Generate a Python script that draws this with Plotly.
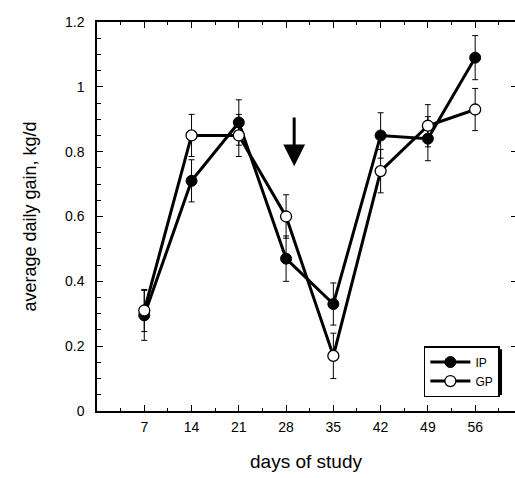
import plotly.graph_objects as go

# ── dados ────────────────────────────────────────────────────────────────────
days = [7, 14, 21, 28, 35, 42, 49, 56]
ip_gain = [0.295, 0.71, 0.89, 0.47, 0.33, 0.85, 0.84, 1.09]
ip_err = [0.077, 0.065, 0.07, 0.07, 0.065, 0.07, 0.068, 0.068]
gp_gain = [0.31, 0.85, 0.85, 0.60, 0.17, 0.74, 0.88, 0.93]
gp_err = [0.065, 0.065, 0.065, 0.067, 0.07, 0.067, 0.065, 0.065]

# seta (mudança de dieta)
arrow_day = 29.2
arrow_tip = 0.755
arrow_tail = 0.91

FONT = "Liberation Sans, Arial, sans-serif"

fig = go.Figure()

fig.add_trace(go.Scatter(
    x=days, y=ip_gain, name="IP",
    mode="lines+markers",
    line=dict(color="black", width=3),
    marker=dict(symbol="circle", size=11, color="black",
                line=dict(color="black", width=1)),
    error_y=dict(type="data", array=ip_err, color="black",
                 thickness=1, width=3),
))
fig.add_trace(go.Scatter(
    x=days, y=gp_gain, name="GP",
    mode="lines+markers",
    line=dict(color="black", width=3),
    marker=dict(symbol="circle", size=11, color="white",
                line=dict(color="black", width=1.3)),
    error_y=dict(type="data", array=gp_err, color="black",
                 thickness=1, width=3),
))
# traço vazio só para o eixo direito (ticks espelhados) aparecer
fig.add_trace(go.Scatter(x=[], y=[], yaxis="y2", showlegend=False,
                         hoverinfo="skip"))

fig.add_annotation(
    x=arrow_day, y=arrow_tip, ax=arrow_day, ay=arrow_tail,
    xref="x", yref="y", axref="x", ayref="y",
    showarrow=True, arrowhead=2, arrowsize=1.45, arrowwidth=3,
    arrowcolor="black", text="",
)

# sombra da legenda
fig.add_shape(type="rect", xref="paper", yref="paper",
              x0=0.789, x1=0.969, y0=0.041, y1=0.159,
              fillcolor="black", line=dict(width=0), layer="above")

fig.update_layout(
    width=515, height=478,
    plot_bgcolor="white", paper_bgcolor="white",
    font=dict(family=FONT, size=14, color="black"),
    margin=dict(l=97, r=0, t=22, b=67, autoexpand=False),
    showlegend=True,
    legend=dict(
        x=0.782, y=0.167, xanchor="left", yanchor="top",
        bgcolor="white", bordercolor="black", borderwidth=1.5,
        font=dict(family=FONT, size=12),
        tracegroupgap=0, itemwidth=40,
    ),
    xaxis=dict(
        range=[0, 61.9], automargin=False,
        tickvals=days, ticktext=[str(d) for d in days],
        ticks="inside", ticklen=6, tickwidth=1, tickcolor="black",
        minor=dict(tick0=0, dtick=3.5, ticks="inside", ticklen=3,
                   tickcolor="black", showgrid=False),
        showline=True, linecolor="black", linewidth=1.5, mirror="ticks",
        showgrid=False, zeroline=False,
        ticklabelstandoff=2,
        title=dict(text="days of study", font=dict(size=19), standoff=21),
    ),
    yaxis=dict(
        range=[0, 1.2], automargin=False,
        tickvals=[0, 0.2, 0.4, 0.6, 0.8, 1.0, 1.2],
        ticktext=["0", "0.2", "0.4", "0.6", "0.8", "1", "1.2"],
        ticks="inside", ticklen=6, tickwidth=1, tickcolor="black",
        minor=dict(tick0=0, dtick=0.05, ticks="inside", ticklen=4,
                   tickcolor="black", showgrid=False),
        showline=True, linecolor="black", linewidth=1.5,
        showgrid=False, zeroline=False,
        ticklabelstandoff=8,
        title=dict(text="average daily gain, kg/d", font=dict(size=18),
                   standoff=24),
    ),
    yaxis2=dict(
        overlaying="y", side="right", range=[0, 1.2], dtick=0.2,
        automargin=False,
        ticks="inside", ticklen=4, tickcolor="black",
        showticklabels=False, showline=False, showgrid=False,
        zeroline=False,
    ),
)

# a página abre com margem de 8px e barra de rolagem; tira as duas
fig.write_html(
    "out.html", config={"displayModeBar": False},
    post_script=(
        "document.body.style.margin = '0';"
        "document.body.style.overflow = 'hidden';"
        "document.documentElement.style.overflow = 'hidden';"
    ),
)
